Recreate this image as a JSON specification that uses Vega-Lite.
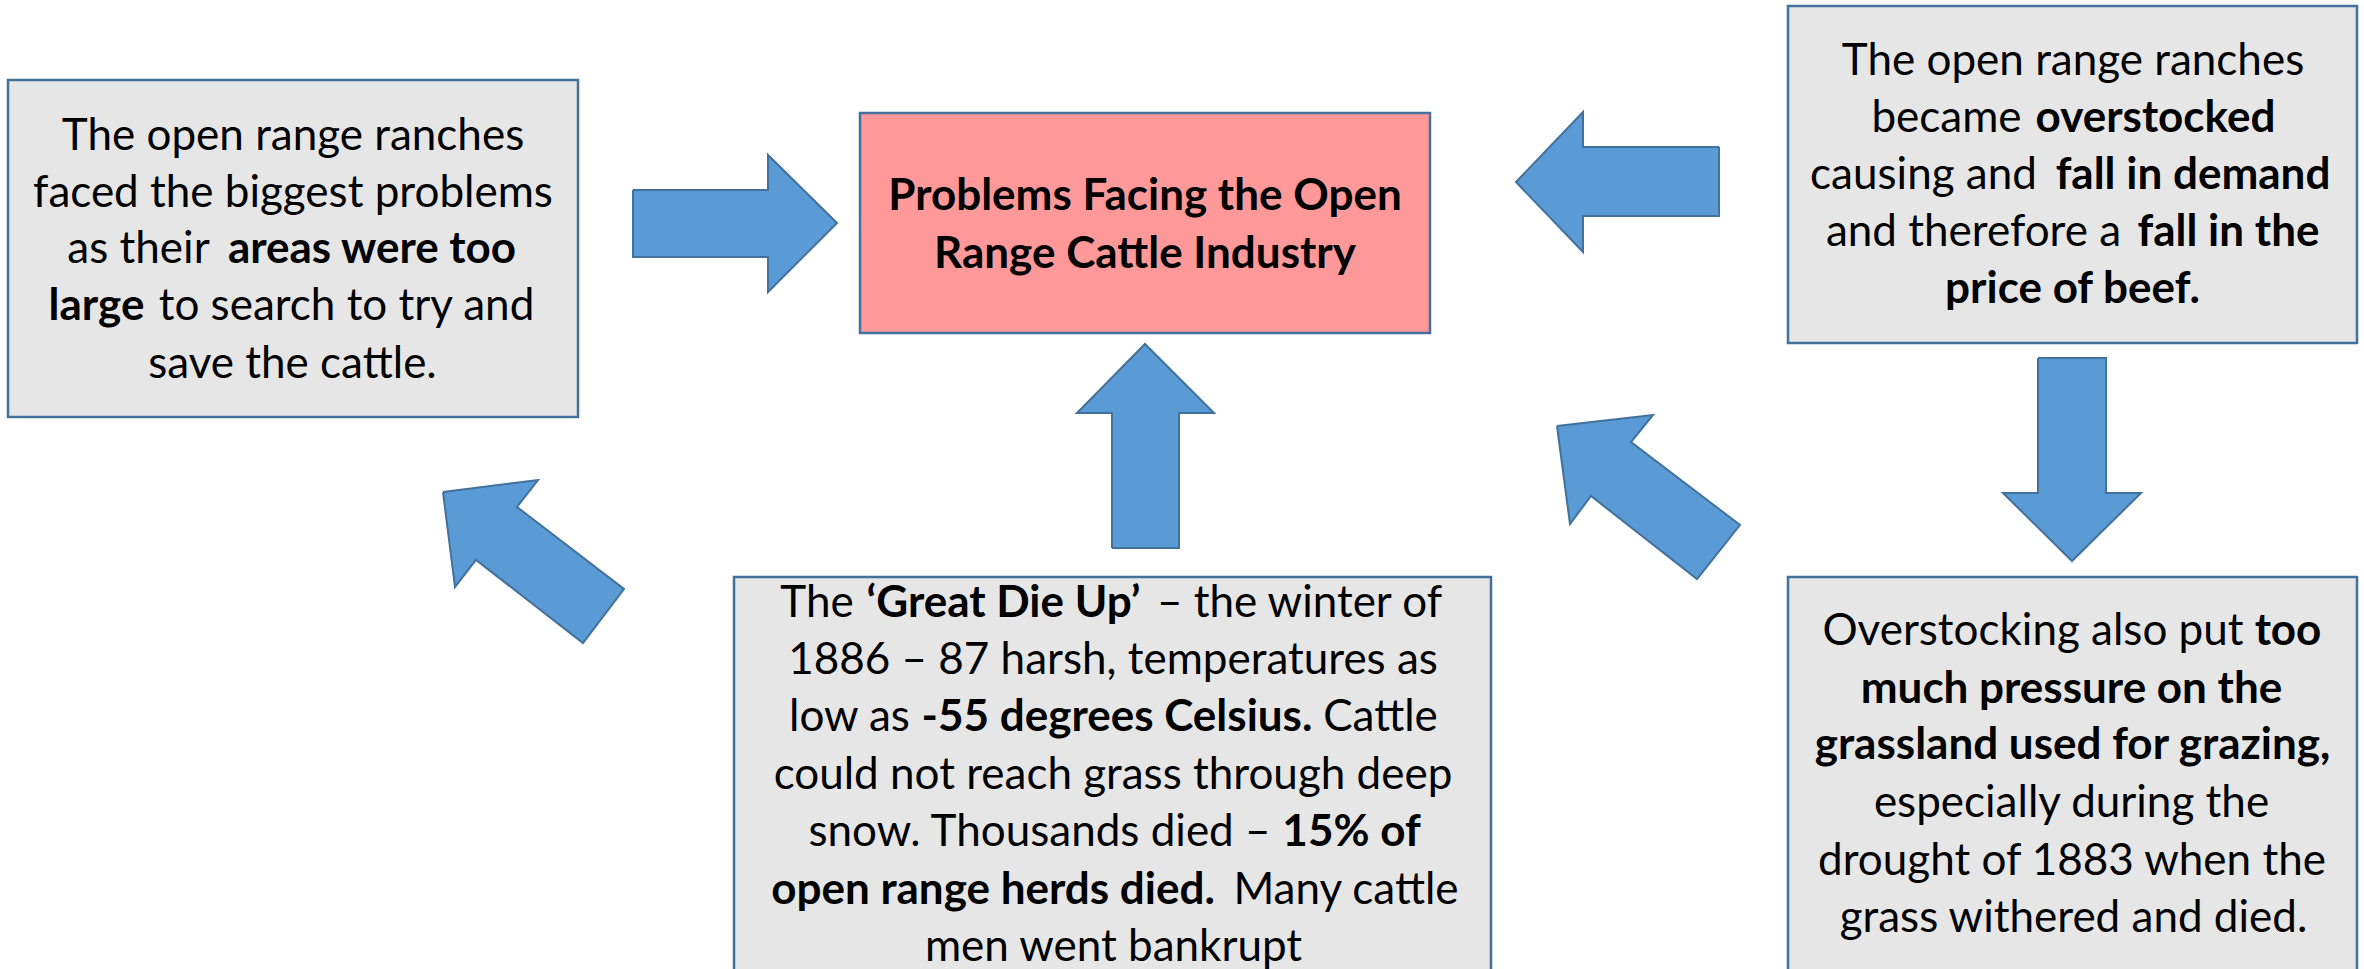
{
  "$schema": "https://vega.github.io/schema/vega-lite/v6.json",
  "width": 2364,
  "height": 969,
  "padding": 0,
  "autosize": {"type": "fit", "contains": "padding"},
  "background": "white",
  "config": {"view": {"stroke": null}},
  "datasets": {
    "notes": [
      {"box": "open range too large", "left": 8, "right": 578, "top": 80, "bottom": 417},
      {"box": "overstocked", "left": 1788, "right": 2357, "top": 6, "bottom": 343},
      {"box": "great die up", "left": 734, "right": 1491, "top": 577, "bottom": 990},
      {"box": "grassland", "left": 1788, "right": 2357, "top": 577, "bottom": 990}
    ],
    "central": [
      {"box": "Problems Facing the Open Range Cattle Industry", "left": 860, "right": 1430, "top": 113, "bottom": 333}
    ],
    "arrows": [
      {"arrow": "right", "i": 0, "px": 633, "py": 190},
      {"arrow": "right", "i": 1, "px": 768, "py": 190},
      {"arrow": "right", "i": 2, "px": 768, "py": 155},
      {"arrow": "right", "i": 3, "px": 837, "py": 223},
      {"arrow": "right", "i": 4, "px": 768, "py": 292},
      {"arrow": "right", "i": 5, "px": 768, "py": 257},
      {"arrow": "right", "i": 6, "px": 633, "py": 257},
      {"arrow": "right", "i": 7, "px": 633, "py": 190},
      {"arrow": "left", "i": 0, "px": 1719, "py": 147},
      {"arrow": "left", "i": 1, "px": 1583, "py": 147},
      {"arrow": "left", "i": 2, "px": 1583, "py": 112},
      {"arrow": "left", "i": 3, "px": 1516, "py": 182},
      {"arrow": "left", "i": 4, "px": 1583, "py": 252},
      {"arrow": "left", "i": 5, "px": 1583, "py": 216},
      {"arrow": "left", "i": 6, "px": 1719, "py": 216},
      {"arrow": "left", "i": 7, "px": 1719, "py": 147},
      {"arrow": "up", "i": 0, "px": 1112, "py": 548},
      {"arrow": "up", "i": 1, "px": 1112, "py": 413},
      {"arrow": "up", "i": 2, "px": 1077, "py": 413},
      {"arrow": "up", "i": 3, "px": 1145, "py": 344},
      {"arrow": "up", "i": 4, "px": 1214, "py": 413},
      {"arrow": "up", "i": 5, "px": 1179, "py": 413},
      {"arrow": "up", "i": 6, "px": 1179, "py": 548},
      {"arrow": "up", "i": 7, "px": 1112, "py": 548},
      {"arrow": "down", "i": 0, "px": 2038, "py": 358},
      {"arrow": "down", "i": 1, "px": 2106, "py": 358},
      {"arrow": "down", "i": 2, "px": 2106, "py": 493},
      {"arrow": "down", "i": 3, "px": 2141, "py": 493},
      {"arrow": "down", "i": 4, "px": 2072, "py": 561},
      {"arrow": "down", "i": 5, "px": 2003, "py": 493},
      {"arrow": "down", "i": 6, "px": 2038, "py": 493},
      {"arrow": "down", "i": 7, "px": 2038, "py": 358},
      {"arrow": "diag right", "i": 0, "px": 1557, "py": 426},
      {"arrow": "diag right", "i": 1, "px": 1653, "py": 415},
      {"arrow": "diag right", "i": 2, "px": 1631, "py": 442},
      {"arrow": "diag right", "i": 3, "px": 1740, "py": 525},
      {"arrow": "diag right", "i": 4, "px": 1697, "py": 579},
      {"arrow": "diag right", "i": 5, "px": 1591, "py": 496},
      {"arrow": "diag right", "i": 6, "px": 1570, "py": 524},
      {"arrow": "diag right", "i": 7, "px": 1557, "py": 426},
      {"arrow": "diag left", "i": 0, "px": 443, "py": 492},
      {"arrow": "diag left", "i": 1, "px": 538, "py": 480},
      {"arrow": "diag left", "i": 2, "px": 517, "py": 507},
      {"arrow": "diag left", "i": 3, "px": 624, "py": 589},
      {"arrow": "diag left", "i": 4, "px": 583, "py": 643},
      {"arrow": "diag left", "i": 5, "px": 476, "py": 560},
      {"arrow": "diag left", "i": 6, "px": 455, "py": 587},
      {"arrow": "diag left", "i": 7, "px": 443, "py": 492}
    ],
    "regular": [
      {"cx": 293, "base": 150, "t": "The open range ranches"},
      {"cx": 293, "base": 207, "t": "faced the biggest problems"},
      {"cx": 138.5, "base": 263, "t": "as their"},
      {"cx": 346.5, "base": 320, "t": "to search to try and"},
      {"cx": 292.5, "base": 378, "t": "save the cattle."},
      {"cx": 2073, "base": 75, "t": "The open range ranches"},
      {"cx": 1946.5, "base": 132, "t": "became"},
      {"cx": 1923.5, "base": 189, "t": "causing and"},
      {"cx": 1973.5, "base": 246, "t": "and therefore a"},
      {"cx": 817, "base": 617, "t": "The"},
      {"cx": 1299.5, "base": 617, "t": "– the winter of"},
      {"cx": 1113, "base": 674, "t": "1886 – 87 harsh, temperatures as"},
      {"cx": 849.5, "base": 731, "t": "low as"},
      {"cx": 1380.5, "base": 731, "t": "Cattle"},
      {"cx": 1113, "base": 789, "t": "could not reach grass through deep"},
      {"cx": 1039.5, "base": 846, "t": "snow. Thousands died –"},
      {"cx": 1346, "base": 904, "t": "Many cattle"},
      {"cx": 1113.5, "base": 961, "t": "men went bankrupt"},
      {"cx": 2033, "base": 645, "t": "Overstocking also put"},
      {"cx": 2071.5, "base": 817, "t": "especially during the"},
      {"cx": 2072, "base": 875, "t": "drought of 1883 when the"},
      {"cx": 2073.5, "base": 932, "t": "grass withered and died."}
    ],
    "bold": [
      {"cx": 372, "base": 263, "t": "areas were too"},
      {"cx": 96.5, "base": 320, "t": "large"},
      {"cx": 1145, "base": 210, "t": "Problems Facing the Open"},
      {"cx": 1145, "base": 268, "t": "Range Cattle Industry"},
      {"cx": 2155.5, "base": 132, "t": "overstocked"},
      {"cx": 2193, "base": 189, "t": "fall in demand"},
      {"cx": 2228.5, "base": 246, "t": "fall in the"},
      {"cx": 2072.5, "base": 303, "t": "price of beef."},
      {"cx": 1003.5, "base": 617, "t": "‘Great Die Up’"},
      {"cx": 1117, "base": 731, "t": "-55 degrees Celsius."},
      {"cx": 1351.5, "base": 846, "t": "15% of"},
      {"cx": 993, "base": 904, "t": "open range herds died."},
      {"cx": 2288, "base": 645, "t": "too"},
      {"cx": 2071.5, "base": 703, "t": "much pressure on the"},
      {"cx": 2072.5, "base": 759, "t": "grassland used for grazing,"}
    ]
  },
  "layer": [
    {
      "data": {"name": "notes"},
      "mark": {"type": "rect", "fill": "#E7E6E6", "stroke": "#41719C", "strokeWidth": 2.5, "clip": true},
      "encoding": {
        "x": {"field": "left", "type": "quantitative", "scale": {"domain": [0, 2364], "nice": false, "zero": false}, "axis": null},
        "x2": {"field": "right"},
        "y": {"field": "top", "type": "quantitative", "scale": {"domain": [0, 969], "nice": false, "zero": false, "reverse": true}, "axis": null},
        "y2": {"field": "bottom"}
      }
    },
    {
      "data": {"name": "central"},
      "mark": {"type": "rect", "fill": "#FF9999", "stroke": "#41719C", "strokeWidth": 2.5},
      "encoding": {
        "x": {"field": "left", "type": "quantitative"},
        "x2": {"field": "right"},
        "y": {"field": "top", "type": "quantitative"},
        "y2": {"field": "bottom"}
      }
    },
    {
      "data": {"name": "arrows"},
      "mark": {"type": "line", "fill": "#5B9BD5", "stroke": "#41719C", "strokeWidth": 2, "strokeJoin": "miter", "interpolate": "linear"},
      "encoding": {
        "x": {"field": "px", "type": "quantitative"},
        "y": {"field": "py", "type": "quantitative"},
        "detail": {"field": "arrow", "type": "nominal"},
        "order": {"field": "i", "type": "quantitative"}
      }
    },
    {
      "data": {"name": "regular"},
      "mark": {"type": "text", "font": "Lato", "fontSize": 44, "fontWeight": "normal", "color": "#000000", "align": "center", "baseline": "alphabetic", "clip": true},
      "encoding": {
        "x": {"field": "cx", "type": "quantitative"},
        "y": {"field": "base", "type": "quantitative"},
        "text": {"field": "t"}
      }
    },
    {
      "data": {"name": "bold"},
      "mark": {"type": "text", "font": "Lato", "fontSize": 44, "fontWeight": "bold", "color": "#000000", "align": "center", "baseline": "alphabetic", "clip": true},
      "encoding": {
        "x": {"field": "cx", "type": "quantitative"},
        "y": {"field": "base", "type": "quantitative"},
        "text": {"field": "t"}
      }
    }
  ]
}
